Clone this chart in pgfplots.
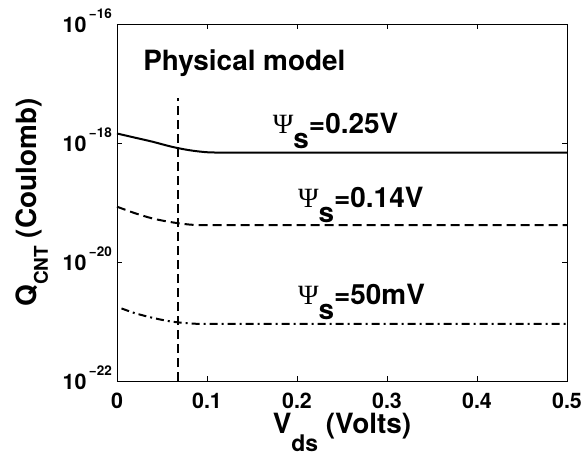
\documentclass[border=0pt]{standalone}
\usepackage{pgfplots}
\pgfplotsset{compat=1.18}
\usepackage{fontspec}
\setmainfont{TeX Gyre Heros}
\newfontfamily\grk{Liberation Serif}
\newcommand{\ex}[1]{\hspace{2.5bp}\raisebox{14bp}{\fontsize{13.5}{14}\selectfont #1}}
\newcommand{\lab}[1]{\fontsize{28}{30}\selectfont\bfseries #1}
\newcommand{\psis}{{\grk\mdseries\fontsize{28}{30}\selectfont Ψ}\raisebox{-15bp}{s}}
\begin{document}
\begin{tikzpicture}
\begin{axis}[
  scale only axis, width=450bp, height=357bp,
  ymode=log, xmin=0, xmax=0.5, ymin=1e-22, ymax=1e-16,
  xtick={0,0.1,0.2,0.3,0.4,0.5},
  xticklabels={0,0.1,0.2,0.3,0.4,0.5},
  ytick={1e-22,1e-20,1e-18,1e-16},
  yticklabels={10\ex{−22},10\ex{−20},10\ex{−18},10\ex{−16}},
  minor ytick={}, yminorticks=false,
  tick align=inside, major tick length=5bp,
  axis line style={line width=0.9bp},
  every tick/.style={line width=0.8bp, black},
  tick label style={font=\fontsize{21.5}{24}\selectfont\bfseries, inner sep=0pt},
  xticklabel style={anchor=base, yshift=-27bp},
  yticklabel style={anchor=base east, xshift=-5bp, yshift=-8bp},
  xlabel={V\raisebox{-18bp}{\fontsize{23}{24}\selectfont ds} (Volts)},
  ylabel={Q\raisebox{-11bp}{\fontsize{19}{20}\selectfont CNT} (Coulomb)},
  label style={font=\fontsize{28}{30}\selectfont\bfseries, inner sep=0pt},
  xlabel style={at={(axis description cs:0.5,-0.1457)}, anchor=base},
  ylabel style={at={(axis description cs:-0.1778,0.5)}, anchor=base},
  clip=false,
]
\addplot[black, line width=2bp, smooth] coordinates {
 (0,1.445e-18) (0.02,1.23e-18) (0.04,1.047e-18) (0.06,8.71e-19) (0.08,7.59e-19) (0.1,7.0e-19) (0.12,6.92e-19) (0.2,6.92e-19) (0.5,6.92e-19)};
\addplot[black, line width=2bp, smooth, dash pattern=on 9bp off 5bp] coordinates {
 (0,8.51e-20) (0.02,6.61e-20) (0.04,5.37e-20) (0.06,4.68e-20) (0.08,4.27e-20) (0.1,4.17e-20) (0.2,4.17e-20) (0.5,4.17e-20)};
\addplot[black, line width=2bp, smooth, dash pattern=on 8bp off 4bp on 2bp off 4bp] coordinates {
 (0.005,1.66e-21) (0.02,1.38e-21) (0.04,1.15e-21) (0.06,1.0e-21) (0.08,9.33e-22) (0.1,9.12e-22) (0.2,9.12e-22) (0.5,9.12e-22)};
\addplot[black, line width=2bp, dash pattern=on 9bp off 5bp] coordinates {(0.068,1e-22) (0.068,5.75e-18)};
\node[anchor=base west, inner sep=0pt] at (axis cs:0.029,1.65e-17) {\lab{Physical model}};
\node[anchor=base west, inner sep=0pt] at (axis cs:0.173,1.45e-18) {\lab{\psis=0.25V}};
\node[anchor=base west, inner sep=0pt] at (axis cs:0.201,8.1e-20) {\lab{\psis=0.14V}};
\node[anchor=base west, inner sep=0pt] at (axis cs:0.201,1.95e-21) {\lab{\psis=50mV}};
\end{axis}
\pgfresetboundingbox
\path (-117bp,-74bp) rectangle (467bp,381bp);
\end{tikzpicture}
\end{document}
